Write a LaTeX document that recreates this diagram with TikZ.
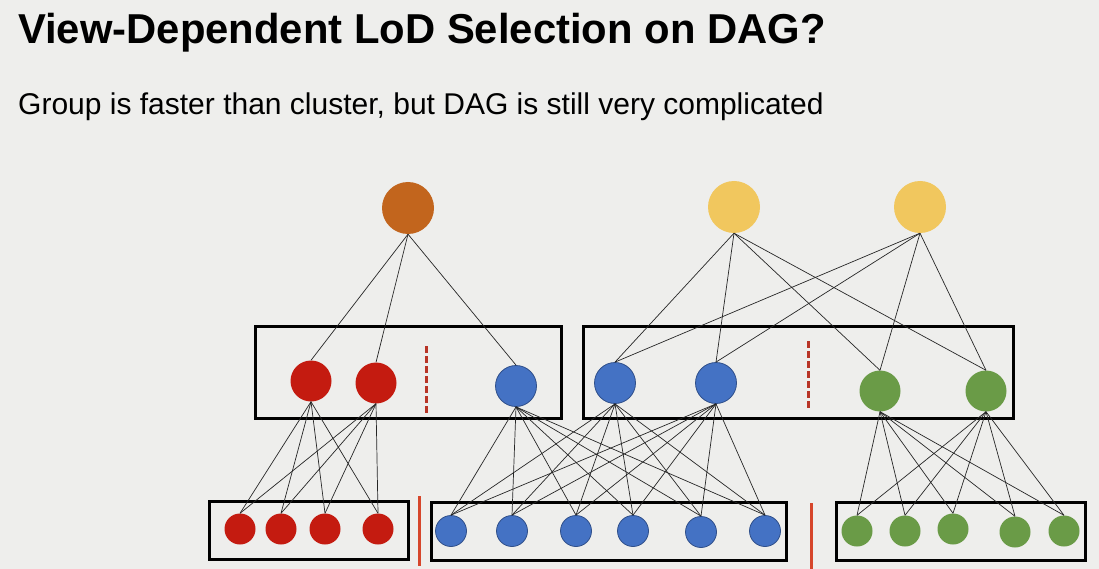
\documentclass[tikz,border=0pt]{standalone}
\usepackage{fontspec}
\setmainfont{Liberation Sans}
\definecolor{bgc}{HTML}{EEEEEC}
\definecolor{cOrange}{HTML}{C2651D}
\definecolor{cYellow}{HTML}{F1C75E}
\definecolor{cRed}{HTML}{C41B10}
\definecolor{cBlue}{HTML}{4472C4}
\definecolor{cBlueD}{HTML}{2F4F8A}
\definecolor{cGreen}{HTML}{6A9B47}
\definecolor{cDash}{HTML}{B83426}
\definecolor{cSep}{HTML}{D6462B}
\begin{document}
\begin{tikzpicture}[x=1pt,y=-1pt,
  dot/.style={circle,inner sep=0pt,draw=none},
  big/.style={dot,minimum size=52pt},
  mid/.style={dot,minimum size=41pt},
  small/.style={dot,minimum size=31pt},
  orangedot/.style={fill=cOrange},
  yellowdot/.style={fill=cYellow},
  reddot/.style={fill=cRed},
  bluedot/.style={fill=cBlue,draw=cBlueD,line width=0.8pt},
  greendot/.style={fill=cGreen},
  link/.style={line width=0.7pt,black!85},
  grp/.style={draw=black,line width=3pt,inner sep=0pt},
  dashsep/.style={draw=cDash,line width=3pt,dash pattern=on 7pt off 3pt},
  solidsep/.style={draw=cSep,line width=3pt},
]
\fill[bgc] (0,0) rectangle (1099,569);
\useasboundingbox (0,0) rectangle (1099,569);

% texts
\node[anchor=base west,inner sep=0pt,font=\bfseries\fontsize{41.8}{44}\selectfont] (title) at (18,44) {View-Dependent LoD Selection on DAG?};
\node[anchor=base west,inner sep=0pt,font=\fontsize{30}{33}\selectfont] (sub) at (18,115) {Group is faster than cluster, but DAG is still very complicated};

% group boxes
\node[grp,minimum width=306pt,minimum height=92pt] (boxL) at (408,372) {};
\node[grp,minimum width=430pt,minimum height=92pt] (boxR) at (798,372) {};
\node[grp,minimum width=199pt,minimum height=58pt] (bboxR) at (308.5,530) {};
\node[grp,minimum width=355pt,minimum height=58pt] (bboxB) at (608.5,531) {};
\node[grp,minimum width=249pt,minimum height=58pt] (bboxG) at (960.5,531) {};

% separators
\coordinate (dL1) at (426,346); \coordinate (dL2) at (426,414);
\coordinate (dR1) at (808,341); \coordinate (dR2) at (808,408);
\draw[dashsep] (dL1) -- (dL2);
\draw[dashsep] (dR1) -- (dR2);
\coordinate (sA1) at (419,496); \coordinate (sA2) at (419,566);
\coordinate (sB1) at (811,503); \coordinate (sB2) at (811,569);
\draw[solidsep] (sA1) -- (sA2);
\draw[solidsep] (sB1) -- (sB2);

% top nodes
\node[big,orangedot] (O) at (408,208) {};
\node[big,yellowdot] (Y1) at (734,207) {};
\node[big,yellowdot] (Y2) at (920,207) {};

% middle nodes
\node[mid,reddot] (mr1) at (311,381) {};
\node[mid,reddot] (mr2) at (376,383) {};
\node[mid,bluedot] (mb1) at (516,386) {};
\node[mid,bluedot] (mb2) at (615,383) {};
\node[mid,bluedot] (mb3) at (716,383) {};
\node[mid,greendot] (mg1) at (880,391) {};
\node[mid,greendot] (mg2) at (986,391) {};

% bottom nodes
\node[small,reddot] (br1) at (240,529) {};
\node[small,reddot] (br2) at (281,529) {};
\node[small,reddot] (br3) at (325,529) {};
\node[small,reddot] (br4) at (378,529) {};
\node[small,bluedot] (bb1) at (451,531) {};
\node[small,bluedot] (bb2) at (512,531) {};
\node[small,bluedot] (bb3) at (576,531) {};
\node[small,bluedot] (bb4) at (633,531) {};
\node[small,bluedot] (bb5) at (701,532) {};
\node[small,bluedot] (bb6) at (765,531) {};
\node[small,greendot] (bg1) at (857,531) {};
\node[small,greendot] (bg2) at (905,531) {};
\node[small,greendot] (bg3) at (953,529) {};
\node[small,greendot] (bg4) at (1015,532) {};
\node[small,greendot] (bg5) at (1064,531) {};

% connectors top -> middle
\foreach \t in {mr1,mr2,mb1} \draw[link] (O.south) -- (\t.north);
\foreach \s in {Y1,Y2} \foreach \t in {mb2,mb3,mg1,mg2} \draw[link] (\s.south) -- (\t.north);

% connectors middle -> bottom
\foreach \s in {mr1,mr2} \foreach \t in {br1,br2,br3,br4} \draw[link] (\s.south) -- (\t.north);
\foreach \s in {mb1,mb2,mb3} \foreach \t in {bb1,bb2,bb3,bb4,bb5,bb6} \draw[link] (\s.south) -- (\t.north);
\foreach \s in {mg1,mg2} \foreach \t in {bg1,bg2,bg3,bg4,bg5} \draw[link] (\s.south) -- (\t.north);
\end{tikzpicture}
\end{document}
